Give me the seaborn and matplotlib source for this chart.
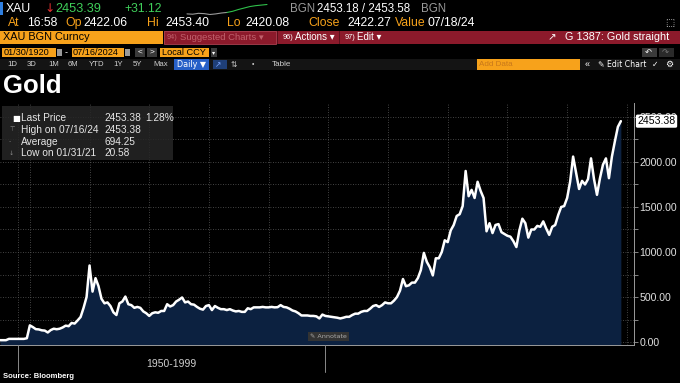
import numpy as np
import pandas as pd
import seaborn as sns
import matplotlib.pyplot as plt
from matplotlib.patches import Rectangle

# Prix de l'or (USD/oz) : quelques points avant 1975, puis trimestriel 1975 -> 2024
price_pre1975 = [20.6, 20.6, 20.6, 35.0, 35.0, 35.0, 35.0, 35.0, 35.0, 42.0]
price_quarterly = [
    185, 166, 143, 140,      # 1975
    130, 127, 106, 133,      # 1976
    148, 142, 148, 162,      # 1977
    182, 176, 212, 205,      # 1978
    240, 278, 380, 500,      # 1979
    850, 560, 710, 620,      # 1980
    480, 430, 440, 400,      # 1981
    330, 300, 430, 450,      # 1982
    505, 420, 410, 380,      # 1983
    390, 380, 340, 320,      # 1984
    290, 320, 330, 325,      # 1985
    345, 345, 420, 395,      # 1986
    410, 450, 470, 495,      # 1987
    440, 450, 420, 415,      # 1988
    390, 370, 360, 400,      # 1989
    410, 355, 400, 380,      # 1990
    365, 365, 355, 365,      # 1991
    350, 340, 345, 335,      # 1992
    335, 375, 365, 385,      # 1993
    385, 385, 390, 385,      # 1994
    385, 390, 385, 387,      # 1995
    410, 390, 385, 370,      # 1996
    350, 340, 320, 295,      # 1997
    295, 295, 290, 290,      # 1998
    285, 262, 305, 290,      # 1999
    285, 280, 275, 270,      # 2000
    262, 270, 280, 280,      # 2001
    300, 315, 315, 335,      # 2002
    345, 345, 370, 400,      # 2003
    410, 390, 410, 440,      # 2004
    430, 430, 460, 500,      # 2005
    570, 700, 620, 630,      # 2006
    660, 660, 710, 800,      # 2007
    990, 890, 830, 740,      # 2008
    930, 930, 1000, 1130,    # 2009
    1110, 1240, 1300, 1400,  # 2010
    1420, 1510, 1900, 1620,  # 2011
    1690, 1600, 1780, 1680,  # 2012
    1600, 1230, 1320, 1210,  # 2013
    1300, 1310, 1220, 1200,  # 2014
    1180, 1170, 1120, 1055,  # 2015
    1240, 1370, 1320, 1160,  # 2016
    1250, 1250, 1290, 1280,  # 2017
    1340, 1260, 1190, 1280,  # 2018
    1300, 1410, 1500, 1510,  # 2019
    1600, 1780, 2060, 1880,  # 2020
    1700, 1790, 1750, 1810,  # 2021
    2040, 1810, 1635, 1820,  # 2022
    1970, 2040, 1820, 2060,  # 2023
    2230, 2390, 2453.38,     # 2024
]
prices = price_pre1975 + price_quarterly

y_ticks = [0, 500, 1000, 1500, 2000, 2500]
y_minor = [250, 750, 1250, 1750, 2250]
x_grid = [10, 30, 50, 70, 90, 110, 130, 150, 170, 190, 210]  # tous les 5 ans depuis 1975
span_1950_1999 = (5.9, 109.0)

legend_labels = ["Last Price", "High on 07/16/24", "Average", "Low on 01/31/21"]
legend_values = ["2453.38", "2453.38", "694.25", "20.58"]
legend_icons = ["\u25a0", "\u22a4", "-", "\u2193"]

range_buttons = ["1D", "3D", "1M", "6M", "YTD", "1Y", "5Y", "Max"]
spark = [2421, 2420, 2423, 2422, 2419, 2421, 2424, 2426, 2430, 2436, 2441, 2446, 2449, 2451, 2453]

df = pd.DataFrame({"idx": np.arange(len(prices)), "price": prices})

sns.set_style("dark")
plt.rcParams["font.family"] = ["Liberation Sans", "DejaVu Sans"]

W, H = 680, 383
fig = plt.figure(figsize=(6.8, 3.83), dpi=100, facecolor="black")

ORANGE = "#f7a21b"
RED = "#8c1a2b"
GREEN = "#3fcf5a"


def box(x0, y0, x1, y1, color, **kw):
    fig.patches.append(Rectangle((x0 / W, 1 - y1 / H), (x1 - x0) / W, (y1 - y0) / H,
                                 transform=fig.transFigure, facecolor=color,
                                 edgecolor=kw.pop("ec", "none"), lw=kw.pop("lw", 0), **kw))


def txt(x, y, s, color="white", size=8.5, **kw):
    fig.text(x / W, 1 - y / H, s, color=color, fontsize=size, va="center", **kw)


# --- en-tete Bloomberg ---
box(0, 2, 3, 15, "#2f7fe0")
txt(6, 9, "XAU", size=8.8)
txt(44, 9, "\u2193", color="#e03030", size=8.8, family=["DejaVu Sans"])
txt(55, 9, "2453.39", color=GREEN, size=9.2)
txt(124, 9, "+31.12", color=GREEN, size=8.8)
txt(290, 9, "BGN", color="#9a9a9a", size=8.3)
txt(317, 9, "2453.18 / 2453.58", size=8.3)
txt(421, 9, "BGN", color="#9a9a9a", size=8.3)

sp = fig.add_axes([183 / W, 1 - 15 / H, 88 / W, 11 / H])
sp.set_axis_off()
sns.lineplot(x=np.arange(len(spark))[:8], y=spark[:8], ax=sp, color="#9a9a9a", lw=0.8)
sns.lineplot(x=np.arange(len(spark))[7:], y=spark[7:], ax=sp, color="#2fbf4a", lw=0.8)

for x, s, c in [(8, "At", ORANGE), (27, "16:58", "white"), (65, "Op", ORANGE),
                (83, "2422.06", "white"), (147, "Hi", ORANGE), (165, "2453.40", "white"),
                (227, "Lo", ORANGE), (245, "2420.08", "white"), (308, "Close", ORANGE),
                (347, "2422.27", "white"), (395, "Value", ORANGE), (428, "07/18/24", "white")]:
    txt(x, 23, s, color=c, size=8.8)
txt(665, 23, "\u2b1a", color="#cccccc", size=7, family=["DejaVu Sans"])

box(0, 31, 163, 44, ORANGE)
txt(3, 37.5, "XAU BGN Curncy", color="black", size=7.8)
box(164, 31, 680, 44, RED)
box(164, 31, 276, 44, RED, ec="#a8404f", lw=0.6)
txt(167, 37.5, "94)", color="#c0606c", size=5.3)
txt(180, 37.5, "Suggested Charts \u25be", color="#c0606c", size=6.8)
box(277, 31, 278, 44, "#5a0f1a")
txt(283, 37.5, "96)", size=5.3)
txt(295, 37.5, "Actions \u25be", size=7)
box(339, 31, 340, 44, "#5a0f1a")
txt(345, 37.5, "97)", size=5.3)
txt(357, 37.5, "Edit \u25be", size=7)
txt(548, 37.5, "\u2197", size=7.5, family=["DejaVu Sans"])
txt(565, 37.5, "G 1387: Gold straight", size=7.8)

box(2, 48, 56, 57, ORANGE)
txt(4, 52.5, "01/30/1920", color="black", size=6.6)
box(57, 49, 62, 56, "#9a9a9a")
txt(65, 52.5, "-", size=6.5)
box(72, 48, 124, 57, ORANGE)
txt(73, 52.5, "07/16/2024", color="black", size=6.6)
box(125, 49, 130, 56, "#9a9a9a")
box(135, 48, 145, 57, "#3a3a3a")
box(147, 48, 157, 57, "#3a3a3a")
txt(138, 52.5, "<", size=6)
txt(150, 52.5, ">", size=6)
box(160, 48, 209, 57, ORANGE)
txt(162, 52.5, "Local CCY", color="black", size=6.6)
box(211, 48, 217, 57, "#3a3a3a")
txt(212, 52.5, "\u25be", size=4.5, family=["DejaVu Sans"])
box(642, 48, 657, 57, "#3a3a3a")
box(659, 48, 674, 57, "#2a2a2a")
txt(645, 52.5, "\u21b6", size=6, family=["DejaVu Sans"])
txt(662, 52.5, "\u21b7", color="#777777", size=6, family=["DejaVu Sans"])

box(0, 59, 680, 70, "#141414")
for x, s in zip([7, 27, 48, 68, 89, 113, 133, 153], range_buttons):
    txt(x, 64.5, s, color="#d0d0d0", size=5.6)
box(174, 59, 209, 70, "#2760c8")
txt(177, 64.5, "Daily \u25bc", size=5.8, family=["DejaVu Sans"])
box(213, 60, 227, 69, "#1f3f78")
txt(215, 64.5, "\u2197", color="#7fa8ff", size=5.5, family=["DejaVu Sans"])
txt(231, 64.5, "\u21c5", color="#cccccc", size=5.5, family=["DejaVu Sans"])
txt(252, 64.5, "\u2022", color="#cccccc", size=5)
txt(272, 64.5, "Table", color="#d0d0d0", size=5.8)
box(477, 59, 580, 70, ORANGE)
txt(479, 64.5, "Add Data", color="#c8781a", size=5.8)
txt(585, 64.5, "\u00ab", size=6.5)
txt(598, 64.5, "\u270e Edit Chart", size=5.6, family=["DejaVu Sans"])
txt(652, 64.5, "\u2713", size=5.6, family=["DejaVu Sans"])
txt(665, 64.5, "\u2699", size=6.5, family=["DejaVu Sans"])

txt(3, 86, "Gold", size=18.5, fontweight="bold")

# --- graphique ---
ax = fig.add_axes([0, 1 - 345 / H, 634 / W, 242 / H])
ax.set_facecolor("black")
ax.fill_between(df["idx"], df["price"], -40, color="#0c2140", lw=0, zorder=1)
sns.lineplot(data=df, x="idx", y="price", ax=ax, color="white", lw=1.8, zorder=3)
ax.set_xlim(0, 212.4)
ax.set_ylim(-33, 2655)

ax.yaxis.tick_right()
ax.set_yticks(y_ticks)
ax.set_yticklabels([f"{v:.2f}" for v in y_ticks])
ax.set_yticks(y_minor, minor=True)
ax.tick_params(axis="y", which="both", colors="#9a9a9a", labelcolor="#e0e0e0",
               labelsize=7.6, length=3, width=0.6, direction="out", pad=1)
ax.set_xticks(x_grid)
ax.set_xticklabels([])
ax.tick_params(axis="x", colors="#8a8a8a", length=3, width=0.6)
for v in y_ticks + y_minor:
    ax.axhline(v, color="#5a5a5a", lw=0.6, ls=(0, (1, 2)), zorder=0)
for xg in x_grid + [span_1950_1999[0]]:
    ax.axvline(xg, color="#5a5a5a", lw=0.6, ls=(0, (1, 2)), zorder=0)
for s in ["top", "left"]:
    ax.spines[s].set_visible(False)
for s in ["right", "bottom"]:
    ax.spines[s].set_color("#9a9a9a")
    ax.spines[s].set_linewidth(0.7)
ax.set_xlabel("")
ax.set_ylabel("")
ax.grid(False)

# etiquette du dernier prix (cache le 2500.00, comme sur l'original)
ax.annotate("2453.38", xy=(1.0, 2453.38), xycoords=("axes fraction", "data"),
            xytext=(2.5, 0), textcoords="offset points", fontsize=7.6, color="black",
            va="center", ha="left", zorder=10,
            bbox=dict(boxstyle="round,pad=0.15", fc="white", ec="none"), annotation_clip=False)

# bouton Annotate
ax.text(110, 60, "\u270e Annotate", fontsize=4.6, color="#aaaaaa", ha="center", va="center",
        family=["DejaVu Sans"],
        bbox=dict(boxstyle="square,pad=0.3", fc="#333333", ec="none"), zorder=5)

# legende
box(2, 106, 173, 160, "#262626", alpha=0.85, zorder=4)
for i, (ic, lab, val) in enumerate(zip(legend_icons, legend_labels, legend_values)):
    y = 118 + i * 11.8
    txt(12 if i == 0 else 9, y, ic, color="white" if i == 0 else "#8a8a8a",
        size=6 if i == 0 else 4.5, zorder=5, family=["DejaVu Sans"])
    txt(21, y, lab, color="#e6e6e6", size=7.3, zorder=5)
    txt(104, y, val, color="#e6e6e6", size=7.3, zorder=5)
txt(145, 118, "1.28%", color="#e6e6e6", size=7.3, zorder=5)

# axe du bas : periode 1950-1999
x0 = ax.transData.transform((span_1950_1999[0], 0))[0]
x1 = ax.transData.transform((span_1950_1999[1], 0))[0]
for xp in (x0, x1):
    fig.add_artist(plt.Line2D([xp / W, xp / W], [1 - 345 / H, 1 - 372 / H],
                              transform=fig.transFigure, color="#8a8a8a", lw=0.7))
txt((x0 + x1) / 2, 364, "1950-1999", color="#d0d0d0", size=7.5, ha="center")

txt(3, 377, "Source: Bloomberg", size=5.5, fontweight="bold")

fig.savefig("out.png", dpi=100, facecolor="black")
